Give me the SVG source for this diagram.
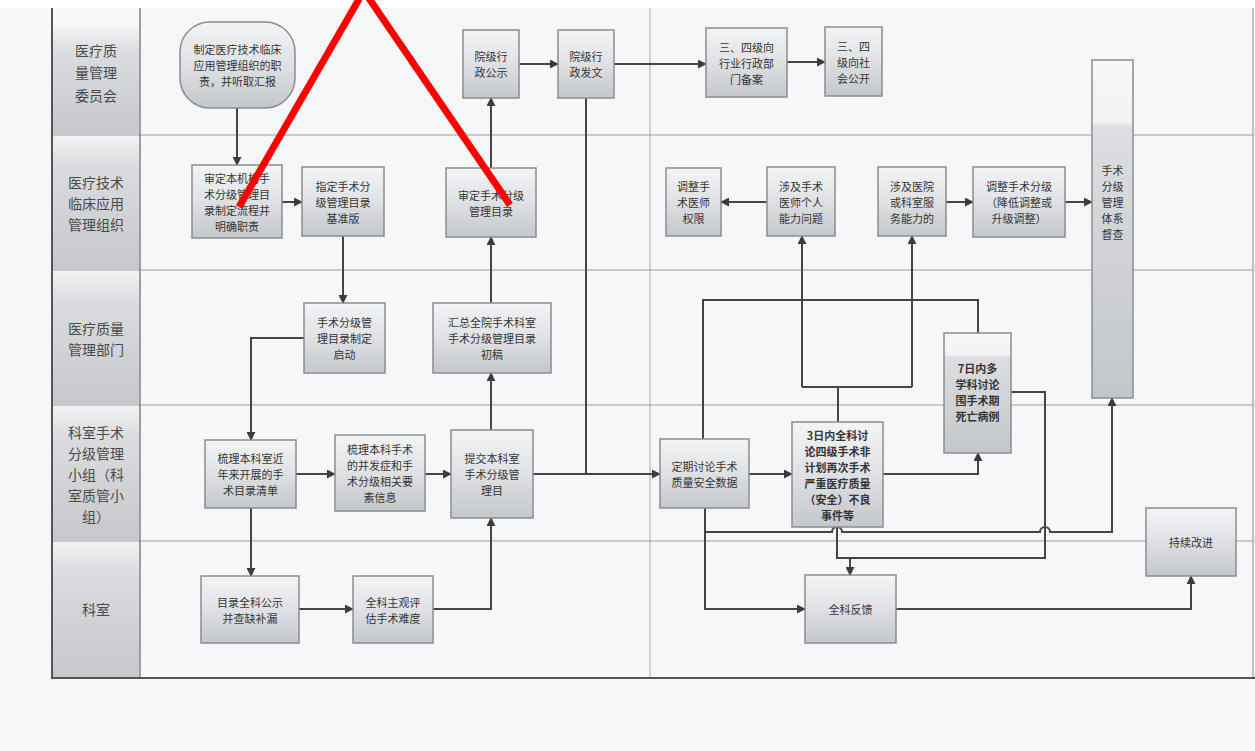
<svg xmlns="http://www.w3.org/2000/svg" width="1255" height="751" viewBox="0 0 1255 751">
<defs>
<linearGradient id="boxg" x1="0" y1="0" x2="0" y2="1">
<stop offset="0" stop-color="#f3f4f6"/>
<stop offset="0.45" stop-color="#e1e3e6"/>
<stop offset="1" stop-color="#c4c7cb"/>
</linearGradient>
<linearGradient id="tallg" x1="0" y1="0" x2="0" y2="1">
<stop offset="0" stop-color="#f6f7f8"/>
<stop offset="0.18" stop-color="#f2f3f5"/>
<stop offset="0.2" stop-color="#dcdee1"/>
<stop offset="1" stop-color="#c3c6ca"/>
</linearGradient>
<linearGradient id="hdrg" x1="0" y1="0" x2="0" y2="1">
<stop offset="0" stop-color="#f2f3f5"/>
<stop offset="0.22" stop-color="#dadcdf"/>
<stop offset="1" stop-color="#c6c8cb"/>
</linearGradient>
<marker id="ah" viewBox="0 0 10 10" refX="9" refY="5" markerWidth="9" markerHeight="9" markerUnits="userSpaceOnUse" orient="auto">
<path d="M0,0 L10,5 L0,10 z" fill="#3c3c3c"/>
</marker>
<style>
.box{fill:url(#boxg);stroke:#8a8d91;stroke-width:1.5}
.t{font-family:"Noto Sans CJK SC","Noto Sans",sans-serif;font-size:11px;fill:#353535;text-anchor:middle;dominant-baseline:central}
.h{font-family:"Noto Sans CJK SC","Noto Sans",sans-serif;font-size:14px;fill:#4a4a4a;text-anchor:middle;dominant-baseline:central}
.c{fill:none;stroke:#454545;stroke-width:2}
.ca{fill:none;stroke:#454545;stroke-width:2;marker-end:url(#ah)}
.lane{stroke:#9a9c9f;stroke-width:1.2}
.red{stroke:#ff0000;stroke-width:7;stroke-linecap:butt}
</style>
</defs>
<rect x="0" y="0" width="1255" height="751" fill="#f6f7f9"/>
<rect x="0" y="0" width="1255" height="8" fill="#ffffff"/>

<g id="lanes">
<rect x="53" y="28" width="86" height="106" fill="url(#hdrg)"/>
<rect x="53" y="136" width="86" height="133" fill="url(#hdrg)"/>
<rect x="53" y="271" width="86" height="133" fill="url(#hdrg)"/>
<rect x="53" y="406" width="86" height="134" fill="url(#hdrg)"/>
<rect x="53" y="542" width="86" height="135" fill="url(#hdrg)"/>
<line class="lane" x1="52" y1="135" x2="1253" y2="135"/>
<line class="lane" x1="52" y1="270" x2="1253" y2="270"/>
<line class="lane" x1="52" y1="405" x2="1253" y2="405"/>
<line class="lane" x1="52" y1="541" x2="1253" y2="541"/>
<line x1="140" y1="8" x2="140" y2="678" stroke="#7d7f82" stroke-width="1.5"/>
<line x1="650" y1="8" x2="650" y2="678" stroke="#a9abae" stroke-width="1"/>
<line x1="1253" y1="8" x2="1253" y2="678" stroke="#8c8e91" stroke-width="1"/>
<line x1="52" y1="8" x2="52" y2="679" stroke="#555" stroke-width="2"/>
<line x1="51" y1="678" x2="1255" y2="678" stroke="#555" stroke-width="2"/>
<text class="h"><tspan x="96" y="50">医疗质</tspan><tspan x="96" y="72">量管理</tspan><tspan x="96" y="95">委员会</tspan></text>
<text class="h"><tspan x="96" y="182">医疗技术</tspan><tspan x="96" y="203">临床应用</tspan><tspan x="96" y="224">管理组织</tspan></text>
<text class="h"><tspan x="96" y="328">医疗质量</tspan><tspan x="96" y="349">管理部门</tspan></text>
<text class="h"><tspan x="96" y="432">科室手术</tspan><tspan x="96" y="453">分级管理</tspan><tspan x="96" y="474">小组（科</tspan><tspan x="96" y="495">室质管小</tspan><tspan x="96" y="516">组）</tspan></text>
<text class="h"><tspan x="96" y="609">科室</tspan></text>
</g>

<g id="connectors">
<path class="ca" d="M237,108 V165"/>
<path class="ca" d="M282,202 H302"/>
<path class="ca" d="M343,236 V303"/>
<path class="ca" d="M304,338 H251 V440"/>
<path class="ca" d="M296,474 H335"/>
<path class="ca" d="M425,474 H451"/>
<path class="ca" d="M251,508 V576"/>
<path class="ca" d="M299,609 H353"/>
<path class="ca" d="M433,609 H491 V518"/>
<path class="ca" d="M491,430 V373"/>
<path class="ca" d="M491,303 V237"/>
<path class="ca" d="M491,168 V98"/>
<path class="ca" d="M519,64 H558"/>
<path class="ca" d="M614,64 H706"/>
<path class="ca" d="M787,62 H825"/>
<path class="c" d="M586,98 V474"/>
<path class="ca" d="M533,474 H660"/>
<path class="ca" d="M749,474 H792"/>
<path class="ca" d="M883,474 H978 V453"/>
<path class="c" d="M838,422 V387 M802,387 H912"/>
<path class="ca" d="M802,387 V236"/>
<path class="ca" d="M912,387 V236"/>
<path class="c" d="M978,333 V300 H703 V439"/>
<path class="c" d="M1011,392 H1045 V558 H837 V527"/>
<path class="ca" d="M850,558 V575"/>
<path class="ca" d="M705,508 V609 H805"/>
<path class="ca" d="M705,532 H832 A5,5 0 0 1 842,532 H1040 A5,5 0 0 1 1050,532 H1112 V398"/>
<path class="ca" d="M896,609 H1191 V576"/>
<path class="ca" d="M767,202 H721"/>
<path class="ca" d="M946,202 H973"/>
<path class="ca" d="M1065,202 H1092"/>
</g>

<g id="n1"><rect x="180" y="22" width="115" height="86" rx="30" class="box"/>
<text class="t"><tspan x="237.5" y="49">制定医疗技术临床</tspan><tspan x="237.5" y="65">应用管理组织的职</tspan><tspan x="237.5" y="81">责，并听取汇报</tspan></text></g>
<g id="n2"><rect x="192" y="165" width="90" height="73" class="box"/>
<text class="t"><tspan x="237" y="177.5">审定本机构手</tspan><tspan x="237" y="193.5">术分级管理目</tspan><tspan x="237" y="209.5">录制定流程并</tspan><tspan x="237" y="225.5">明确职责</tspan></text></g>
<g id="n3"><rect x="302" y="167" width="82" height="69" class="box"/>
<text class="t"><tspan x="343" y="185.5">指定手术分</tspan><tspan x="343" y="201.5">级管理目录</tspan><tspan x="343" y="217.5">基准版</tspan></text></g>
<g id="n4"><rect x="446" y="168" width="90" height="69" class="box"/>
<text class="t"><tspan x="491" y="194.5">审定手术分级</tspan><tspan x="491" y="210.5">管理目录</tspan></text></g>
<g id="n5"><rect x="463" y="30" width="56" height="68" class="box"/>
<text class="t"><tspan x="491" y="56">院级行</tspan><tspan x="491" y="72">政公示</tspan></text></g>
<g id="n6"><rect x="558" y="30" width="56" height="68" class="box"/>
<text class="t"><tspan x="586" y="56">院级行</tspan><tspan x="586" y="72">政发文</tspan></text></g>
<g id="n7"><rect x="706" y="28" width="81" height="69" class="box"/>
<text class="t"><tspan x="746.5" y="46.5">三、四级向</tspan><tspan x="746.5" y="62.5">行业行政部</tspan><tspan x="746.5" y="78.5">门备案</tspan></text></g>
<g id="n8"><rect x="825" y="27" width="57" height="69" class="box"/>
<text class="t"><tspan x="853.5" y="45.5">三、四</tspan><tspan x="853.5" y="61.5">级向社</tspan><tspan x="853.5" y="77.5">会公开</tspan></text></g>
<g id="n9"><rect x="1092" y="60" width="41" height="338" fill="url(#tallg)" stroke="#8a8d91" stroke-width="1.5"/>
<text class="t"><tspan x="1112.5" y="170">手术</tspan><tspan x="1112.5" y="186">分级</tspan><tspan x="1112.5" y="202">管理</tspan><tspan x="1112.5" y="218">体系</tspan><tspan x="1112.5" y="234">督查</tspan></text></g>
<g id="n10"><rect x="666" y="168" width="55" height="68" class="box"/>
<text class="t"><tspan x="693.5" y="186">调整手</tspan><tspan x="693.5" y="202">术医师</tspan><tspan x="693.5" y="218">权限</tspan></text></g>
<g id="n11"><rect x="767" y="167" width="68" height="69" class="box"/>
<text class="t"><tspan x="801" y="185.5">涉及手术</tspan><tspan x="801" y="201.5">医师个人</tspan><tspan x="801" y="217.5">能力问题</tspan></text></g>
<g id="n12"><rect x="878" y="167" width="68" height="69" class="box"/>
<text class="t"><tspan x="912" y="185.5">涉及医院</tspan><tspan x="912" y="201.5">或科室服</tspan><tspan x="912" y="217.5">务能力的</tspan></text></g>
<g id="n13"><rect x="973" y="167" width="92" height="70" class="box"/>
<text class="t"><tspan x="1019" y="186">调整手术分级</tspan><tspan x="1019" y="202">（降低调整或</tspan><tspan x="1019" y="218">升级调整）</tspan></text></g>
<g id="n14"><rect x="304" y="303" width="81" height="70" class="box"/>
<text class="t"><tspan x="344.5" y="322">手术分级管</tspan><tspan x="344.5" y="338">理目录制定</tspan><tspan x="344.5" y="354">启动</tspan></text></g>
<g id="n15"><rect x="433" y="303" width="118" height="70" class="box"/>
<text class="t"><tspan x="492" y="322">汇总全院手术科室</tspan><tspan x="492" y="338">手术分级管理目录</tspan><tspan x="492" y="354">初稿</tspan></text></g>
<g id="n16"><rect x="205" y="440" width="91" height="68" class="box"/>
<text class="t"><tspan x="250.5" y="458">梳理本科室近</tspan><tspan x="250.5" y="474">年来开展的手</tspan><tspan x="250.5" y="490">术目录清单</tspan></text></g>
<g id="n17"><rect x="335" y="435" width="90" height="76" class="box"/>
<text class="t"><tspan x="380" y="449">梳理本科手术</tspan><tspan x="380" y="465">的并发症和手</tspan><tspan x="380" y="481">术分级相关要</tspan><tspan x="380" y="497">素信息</tspan></text></g>
<g id="n18"><rect x="451" y="430" width="82" height="88" class="box"/>
<text class="t"><tspan x="492" y="458">提交本科室</tspan><tspan x="492" y="474">手术分级管</tspan><tspan x="492" y="490">理目</tspan></text></g>
<g id="n19"><rect x="660" y="439" width="89" height="69" class="box"/>
<text class="t"><tspan x="704.5" y="465.5">定期讨论手术</tspan><tspan x="704.5" y="481.5">质量安全数据</tspan></text></g>
<g id="n20"><rect x="792" y="422" width="91" height="105" class="box"/>
<text class="t" font-weight="bold"><tspan x="837.5" y="434.5">3日内全科讨</tspan><tspan x="837.5" y="450.5">论四级手术非</tspan><tspan x="837.5" y="466.5">计划再次手术</tspan><tspan x="837.5" y="482.5">严重医疗质量</tspan><tspan x="837.5" y="498.5">（安全）不良</tspan><tspan x="837.5" y="514.5">事件等</tspan></text></g>
<g id="n21"><rect x="944" y="333" width="67" height="120" fill="url(#tallg)" stroke="#8a8d91" stroke-width="1.5"/>
<text class="t" font-weight="bold"><tspan x="977.5" y="368">7日内多</tspan><tspan x="977.5" y="384">学科讨论</tspan><tspan x="977.5" y="400">围手术期</tspan><tspan x="977.5" y="416">死亡病例</tspan></text></g>
<g id="n22"><rect x="201" y="576" width="98" height="67" class="box"/>
<text class="t"><tspan x="250" y="601.5">目录全科公示</tspan><tspan x="250" y="617.5">并查缺补漏</tspan></text></g>
<g id="n23"><rect x="353" y="576" width="80" height="67" class="box"/>
<text class="t"><tspan x="393" y="601.5">全科主观评</tspan><tspan x="393" y="617.5">估手术难度</tspan></text></g>
<g id="n24"><rect x="805" y="575" width="91" height="68" class="box"/>
<text class="t"><tspan x="850.5" y="609">全科反馈</tspan></text></g>
<g id="n25"><rect x="1146" y="508" width="90" height="68" class="box"/>
<text class="t"><tspan x="1191" y="542">持续改进</tspan></text></g>

<g id="overlay">
<line class="red" x1="362" y1="-6" x2="239" y2="207"/>
<line class="red" x1="366" y1="-6" x2="510" y2="205"/>
</g>
</svg>
